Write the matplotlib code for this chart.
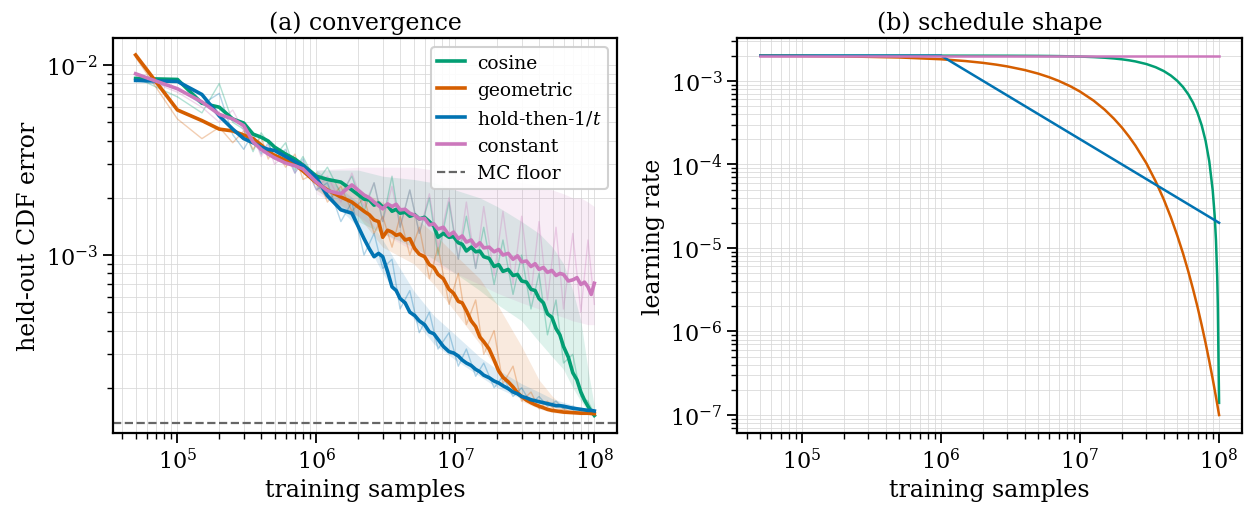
import numpy as np
import matplotlib
matplotlib.use("Agg")
import matplotlib.pyplot as plt

plt.rcParams['font.family'] = ['DejaVu Serif']
plt.rcParams['mathtext.fontset'] = 'dejavuserif'

# colours (seaborn colorblind)
c_cos = '#029e73'
c_geo = '#d55e00'
c_hold = '#0173b2'
c_const = '#cc78bc'

# ---- panel (a): convergence ----
samples = [5e4, 1e5, 1.5e5, 2e5, 2.5e5, 3e5, 3.5e5, 4e5, 4.5e5, 5e5, 6e5, 7e5, 8e5,
           1e6, 1.2e6, 1.5e6, 1.8e6,
           2.2e6, 2.4e6, 2.6e6, 2.8e6, 3e6, 3.25e6, 3.5e6, 3.75e6, 4e6, 4.35e6, 4.7e6,
           5.1e6, 5.5e6, 6e6, 6.5e6, 7e6, 7.5e6, 8.2e6, 9e6, 9.7e6, 1.05e7, 1.12e7, 1.2e7,
           1.3e7, 1.4e7, 1.5e7, 1.6e7, 1.75e7, 1.9e7, 2.05e7, 2.2e7, 2.4e7, 2.6e7, 2.8e7,
           3e7, 3.25e7, 3.5e7, 3.75e7, 4e7, 4.3e7, 4.6e7, 4.95e7, 5.3e7, 5.65e7, 6e7, 6.5e7,
           7e7, 7.5e7, 8e7, 8.5e7, 9e7, 9.5e7, 1e8]

err_cos = [8.5e-3, 8.4e-3, 6.3e-3, 6.0e-3, 5.2e-3, 4.95e-3, 4.33e-3, 4.17e-3, 3.98e-3, 3.7e-3,
           3.4e-3, 3.2e-3, 2.98e-3, 2.6e-3, 2.5e-3, 2.42e-3, 2.2e-3,
           1.97e-3, 1.95e-3, 1.83e-3, 1.88e-3, 1.79e-3, 1.82e-3, 1.7e-3, 1.74e-3, 1.66e-3,
           1.68e-3, 1.6e-3, 1.63e-3, 1.55e-3, 1.58e-3, 1.5e-3, 1.42e-3, 1.24e-3, 1.3e-3,
           1.24e-3, 1.25e-3, 1.16e-3, 1.14e-3, 1.05e-3, 1.1e-3, 1.04e-3, 1.05e-3, 9.8e-4,
           9.6e-4, 8.7e-4, 8.9e-4, 8.2e-4, 8.4e-4, 7.8e-4, 7.9e-4, 7.3e-4, 7.2e-4, 6.6e-4,
           6.5e-4, 5.9e-4, 5.6e-4, 4.9e-4, 4.7e-4, 4.1e-4, 3.8e-4, 3.3e-4, 2.9e-4, 2.4e-4,
           2.2e-4, 1.9e-4, 1.72e-4, 1.6e-4, 1.5e-4, 1.43e-4]
err_geo = [1.13e-2, 5.8e-3, 5.1e-3, 4.6e-3, 4.5e-3, 4.28e-3, 4.1e-3, 3.8e-3, 3.5e-3, 3.35e-3,
           3.16e-3, 3.0e-3, 2.77e-3, 2.4e-3, 2.2e-3, 2.02e-3, 1.9e-3,
           1.7e-3, 1.63e-3, 1.53e-3, 1.5e-3, 1.24e-3, 1.35e-3, 1.32e-3, 1.27e-3, 1.29e-3,
           1.2e-3, 1.22e-3, 1.08e-3, 1.01e-3, 9.8e-4, 8.9e-4, 8.6e-4, 7.9e-4, 7.5e-4, 6.6e-4,
           6.3e-4, 5.7e-4, 5.6e-4, 5.1e-4, 4.5e-4, 4.2e-4, 3.7e-4, 3.5e-4, 3.2e-4, 2.8e-4,
           2.45e-4, 2.27e-4, 2.15e-4, 2.02e-4, 1.88e-4, 1.8e-4, 1.72e-4, 1.67e-4, 1.63e-4,
           1.6e-4, 1.57e-4, 1.54e-4, 1.52e-4, 1.51e-4, 1.5e-4, 1.49e-4, 1.485e-4, 1.48e-4,
           1.475e-4, 1.47e-4, 1.47e-4, 1.47e-4, 1.465e-4, 1.46e-4]
err_hold = [8.3e-3, 8.2e-3, 7.0e-3, 5.4e-3, 4.6e-3, 4.1e-3, 3.9e-3, 3.7e-3, 3.6e-3, 3.55e-3,
            3.3e-3, 3.1e-3, 2.95e-3, 2.55e-3, 2.05e-3, 1.73e-3, 1.66e-3,
            1.22e-3, 1.08e-3, 9.8e-4, 1.02e-3, 9.8e-4, 8.2e-4, 6.8e-4, 6.5e-4, 5.9e-4,
            5.6e-4, 5.0e-4, 4.8e-4, 4.5e-4, 4.3e-4, 3.94e-4, 3.85e-4, 3.6e-4, 3.3e-4, 3.1e-4,
            3.05e-4, 2.94e-4, 2.8e-4, 2.7e-4, 2.62e-4, 2.5e-4, 2.43e-4, 2.33e-4, 2.26e-4,
            2.17e-4, 2.12e-4, 2.05e-4, 1.98e-4, 1.9e-4, 1.86e-4, 1.8e-4, 1.77e-4, 1.73e-4,
            1.71e-4, 1.69e-4, 1.67e-4, 1.65e-4, 1.63e-4, 1.61e-4, 1.61e-4, 1.6e-4, 1.58e-4,
            1.56e-4, 1.55e-4, 1.54e-4, 1.53e-4, 1.52e-4, 1.52e-4, 1.51e-4]
err_const = [9.0e-3, 7.5e-3, 6.4e-3, 5.5e-3, 5.2e-3, 4.8e-3, 3.94e-3, 3.6e-3, 3.4e-3, 3.25e-3,
             3.05e-3, 2.95e-3, 2.84e-3, 2.42e-3, 2.18e-3, 2.1e-3, 2.34e-3,
             2.07e-3, 2.0e-3, 1.9e-3, 1.82e-3, 1.75e-3, 1.86e-3, 1.8e-3, 1.85e-3, 1.73e-3,
             1.74e-3, 1.66e-3, 1.62e-3, 1.55e-3, 1.56e-3, 1.44e-3, 1.46e-3, 1.37e-3, 1.4e-3,
             1.27e-3, 1.32e-3, 1.22e-3, 1.26e-3, 1.17e-3, 1.2e-3, 1.11e-3, 1.16e-3, 1.09e-3,
             1.1e-3, 1.04e-3, 1.07e-3, 1.0e-3, 1.02e-3, 9.5e-4, 9.9e-4, 9.2e-4, 9.3e-4, 8.7e-4,
             9.0e-4, 8.4e-4, 8.6e-4, 8.1e-4, 8.3e-4, 7.8e-4, 8.0e-4, 7.9e-4, 7.3e-4, 7.4e-4,
             7.6e-4, 7.0e-4, 7.2e-4, 6.8e-4, 6.2e-4, 7.1e-4]

# single-seed raw traces (thin, faint)
raw_x = [5e4, 1e5, 1.5e5, 2e5, 2.5e5, 3e5, 3.5e5, 4e5, 4.5e5, 5e5, 6e5, 7e5, 8e5,
         1e6, 1.2e6, 1.5e6, 1.8e6, 2.2e6, 2.6e6, 3e6, 3.5e6, 4e6, 4.7e6, 5.5e6,
         6.5e6, 7.5e6, 9e6, 1.05e7, 1.2e7, 1.4e7, 1.6e7, 1.9e7, 2.2e7, 2.6e7,
         3e7, 3.5e7, 4e7, 4.6e7, 5.3e7, 6e7, 7e7, 8e7, 9e7, 1e8]
raw_cos = [8.6e-3, 6.8e-3, 5.6e-3, 8.0e-3, 5.0e-3, 4.6e-3, 3.5e-3, 4.4e-3, 3.9e-3, 3.3e-3,
           3.9e-3, 2.8e-3, 3.3e-3, 2.4e-3, 2.9e-3, 2.1e-3, 2.6e-3, 1.7e-3, 2.4e-3, 1.5e-3,
           2.6e-3, 1.4e-3, 2.2e-3, 1.3e-3, 2.0e-3, 1.0e-3, 1.9e-3, 9.5e-4, 1.6e-3, 8.5e-4,
           1.4e-3, 7.0e-4, 1.2e-3, 6.2e-4, 1.0e-3, 5.2e-4, 8.0e-4, 3.8e-4, 5.8e-4, 2.7e-4,
           3.0e-4, 1.8e-4, 1.7e-4, 1.45e-4]
raw_geo = [1.1e-2, 5.2e-3, 4.1e-3, 4.7e-3, 3.9e-3, 4.5e-3, 3.6e-3, 4.2e-3, 3.2e-3, 3.7e-3,
           2.9e-3, 3.4e-3, 2.5e-3, 2.7e-3, 1.9e-3, 2.3e-3, 1.7e-3, 2.0e-3, 1.3e-3, 1.6e-3,
           1.1e-3, 1.6e-3, 1.0e-3, 1.4e-3, 7.5e-4, 1.1e-3, 5.5e-4, 8.0e-4, 4.3e-4, 5.8e-4,
           3.0e-4, 4.0e-4, 2.1e-4, 2.6e-4, 1.7e-4, 1.9e-4, 1.55e-4, 1.7e-4, 1.5e-4, 1.55e-4,
           1.47e-4, 1.49e-4, 1.46e-4, 1.46e-4]
raw_hold = [8.3e-3, 7.6e-3, 6.2e-3, 7.1e-3, 4.3e-3, 3.6e-3, 4.4e-3, 3.4e-3, 3.9e-3, 3.2e-3,
            3.6e-3, 2.7e-3, 3.2e-3, 2.2e-3, 2.4e-3, 1.5e-3, 1.9e-3, 1.0e-3, 1.3e-3, 8.5e-4,
            9.5e-4, 5.2e-4, 6.5e-4, 3.9e-4, 5.0e-4, 3.2e-4, 3.9e-4, 2.6e-4, 3.2e-4, 2.3e-4,
            2.7e-4, 2.0e-4, 2.3e-4, 1.8e-4, 2.0e-4, 1.65e-4, 1.8e-4, 1.6e-4, 1.7e-4, 1.55e-4,
            1.6e-4, 1.52e-4, 1.55e-4, 1.5e-4]
raw_const = [8.8e-3, 7.2e-3, 6.0e-3, 5.0e-3, 5.8e-3, 4.5e-3, 4.3e-3, 3.3e-3, 3.8e-3, 3.0e-3,
             3.4e-3, 2.7e-3, 3.1e-3, 2.2e-3, 2.6e-3, 1.9e-3, 2.7e-3, 1.8e-3, 2.4e-3, 1.5e-3,
             2.3e-3, 1.4e-3, 2.2e-3, 1.3e-3, 2.1e-3, 1.1e-3, 2.0e-3, 9.5e-4, 1.9e-3, 8.5e-4,
             1.8e-3, 7.8e-4, 1.7e-3, 7.0e-4, 1.6e-3, 6.2e-4, 1.5e-3, 5.8e-4, 1.4e-3, 5.2e-4,
             1.3e-3, 5.0e-4, 1.2e-3, 5.5e-4]

# seed spread bands
band_x = [1e6, 2e6, 3e6, 5e6, 7e6, 1e7, 1.5e7, 2e7, 3e7, 4e7, 5e7, 6e7, 7e7, 8e7, 9e7, 1e8]
cos_hi = [2.8e-3, 2.8e-3, 2.6e-3, 2.5e-3, 2.4e-3, 2.2e-3, 2.0e-3, 1.8e-3, 1.5e-3, 1.3e-3,
          1.1e-3, 9.0e-4, 6.5e-4, 4.5e-4, 2.5e-4, 1.6e-4]
cos_lo = [2.2e-3, 1.5e-3, 1.3e-3, 1.1e-3, 9.5e-4, 8.0e-4, 6.5e-4, 5.5e-4, 4.5e-4, 3.5e-4,
          2.9e-4, 2.5e-4, 2.0e-4, 1.7e-4, 1.5e-4, 1.4e-4]
geo_hi = [2.6e-3, 2.2e-3, 1.9e-3, 1.6e-3, 1.3e-3, 1.0e-3, 7.5e-4, 5.5e-4, 3.3e-4, 2.2e-4,
          1.8e-4, 1.6e-4, 1.55e-4, 1.5e-4, 1.5e-4, 1.48e-4]
geo_lo = [2.2e-3, 1.6e-3, 1.1e-3, 9.0e-4, 7.0e-4, 5.0e-4, 3.4e-4, 2.5e-4, 1.7e-4, 1.55e-4,
          1.48e-4, 1.46e-4, 1.45e-4, 1.44e-4, 1.44e-4, 1.44e-4]
hold_hi = [2.8e-3, 1.9e-3, 1.2e-3, 6.5e-4, 4.8e-4, 3.8e-4, 2.9e-4, 2.5e-4, 2.1e-4, 1.9e-4,
           1.75e-4, 1.68e-4, 1.62e-4, 1.58e-4, 1.55e-4, 1.54e-4]
hold_lo = [2.3e-3, 1.4e-3, 8.0e-4, 4.6e-4, 3.4e-4, 2.8e-4, 2.3e-4, 2.0e-4, 1.75e-4, 1.65e-4,
           1.58e-4, 1.55e-4, 1.52e-4, 1.5e-4, 1.49e-4, 1.48e-4]
const_hi = [2.8e-3, 2.9e-3, 2.9e-3, 2.9e-3, 2.8e-3, 2.7e-3, 2.6e-3, 2.5e-3, 2.4e-3, 2.3e-3,
            2.2e-3, 2.1e-3, 2.0e-3, 2.0e-3, 1.9e-3, 1.8e-3]
const_lo = [2.1e-3, 1.6e-3, 1.3e-3, 1.05e-3, 9.0e-4, 8.0e-4, 7.0e-4, 6.3e-4, 5.6e-4, 5.2e-4,
            4.9e-4, 4.7e-4, 4.5e-4, 4.4e-4, 4.3e-4, 4.3e-4]

mc_floor = 1.31e-4

# ---- panel (b): learning-rate schedules ----
sched_x = [5e4, 1e5, 2e5, 5e5, 1e6, 1.5e6, 2e6, 2.5e6, 3e6, 4e6, 5e6, 6e6, 7e6, 8.5e6, 1e7,
           1.25e7, 1.5e7, 1.75e7, 2e7, 2.25e7, 2.5e7, 3e7, 3.5e7, 4e7, 4.5e7, 5e7, 5.5e7,
           6e7, 6.5e7, 7e7, 7.5e7, 8e7, 8.5e7, 9e7, 9.3e7, 9.5e7, 9.7e7, 9.8e7, 9.9e7,
           9.95e7, 1e8]
lr_cos = [2.0e-3, 2.0e-3, 2.0e-3, 2.0e-3, 1.9995e-3, 1.9989e-3, 1.998e-3, 1.9969e-3,
          1.9956e-3, 1.9921e-3, 1.9877e-3, 1.9823e-3, 1.976e-3, 1.9646e-3, 1.951e-3,
          1.9239e-3, 1.891e-3, 1.8526e-3, 1.809e-3, 1.7604e-3, 1.707e-3, 1.588e-3, 1.454e-3,
          1.309e-3, 1.156e-3, 1.0e-3, 8.44e-4, 6.91e-4, 5.46e-4, 4.12e-4, 2.93e-4, 1.91e-4,
          1.09e-4, 4.89e-5, 2.41e-5, 1.23e-5, 4.43e-6, 1.97e-6, 4.93e-7, 2.6e-7, 1.4e-7]
lr_geo = [1.990e-3, 1.980e-3, 1.961e-3, 1.903e-3, 1.812e-3, 1.724e-3, 1.641e-3, 1.561e-3,
          1.486e-3, 1.346e-3, 1.219e-3, 1.104e-3, 1.0e-3, 8.62e-4, 7.43e-4, 5.80e-4, 4.53e-4,
          3.53e-4, 2.76e-4, 2.15e-4, 1.68e-4, 1.03e-4, 6.25e-5, 3.81e-5, 2.32e-5, 1.41e-5,
          8.62e-6, 5.26e-6, 3.20e-6, 1.96e-6, 1.19e-6, 7.27e-7, 4.42e-7, 2.70e-7, 2.0e-7,
          1.64e-7, 1.35e-7, 1.22e-7, 1.10e-7, 1.05e-7, 1.0e-7]
hold_x = [5e4, 1e6, 1e8]
lr_hold = [2e-3, 2e-3, 2e-5]
const_x = [5e4, 1e8]
lr_const = [2e-3, 2e-3]

fig = plt.figure(figsize=(12.48, 5.1), dpi=100)
ax1 = fig.add_axes([0.0903, 0.149, 0.4043, 0.7751])
ax2 = fig.add_axes([0.5908, 0.149, 0.4044, 0.7751])

series = [
    ('cosine', c_cos, err_cos, raw_cos, cos_lo, cos_hi),
    ('geometric', c_geo, err_geo, raw_geo, geo_lo, geo_hi),
    ('hold-then-$1/t$', c_hold, err_hold, raw_hold, hold_lo, hold_hi),
    ('constant', c_const, err_const, raw_const, const_lo, const_hi),
]
for name, col, mean, raw, lo, hi in series:
    ax1.fill_between(band_x, lo, hi, color=col, alpha=0.13, lw=0)
    ax1.plot(raw_x, raw, color=col, lw=1.0, alpha=0.3)
for name, col, mean, raw, lo, hi in series:
    ax1.plot(samples, mean, color=col, lw=2.6, label=name)
ax1.axhline(mc_floor, color='#666666', ls='--', lw=1.6, label='MC floor')

ax2.plot(sched_x, lr_cos, color=c_cos, lw=1.8)
ax2.plot(sched_x, lr_geo, color=c_geo, lw=1.8)
ax2.plot(hold_x, lr_hold, color=c_hold, lw=1.8)
ax2.plot(const_x, lr_const, color=c_const, lw=1.8)

for ax in (ax1, ax2):
    ax.set_xscale('log')
    ax.set_yscale('log')
    ax.set_xlim(10 ** 4.534, 10 ** 8.165)
    ax.grid(True, which='both', color='#d8d8d8', lw=0.7, alpha=0.8)
    ax.set_axisbelow(True)
    ax.tick_params(which='major', length=7, width=1.3, labelsize=16)
    ax.tick_params(which='minor', length=4, width=1.0)
    for s in ax.spines.values():
        s.set_linewidth(1.6)
    ax.set_xlabel('training samples', fontsize=17)

ax1.set_ylim(10 ** -3.937, 10 ** -1.856)
ax2.set_ylim(10 ** -7.215, 10 ** -2.484)
ax1.set_ylabel('held-out CDF error', fontsize=17)
ax2.set_ylabel('learning rate', fontsize=17)
ax1.set_title('(a) convergence', fontsize=17)
ax2.set_title('(b) schedule shape', fontsize=17)

leg = ax1.legend(loc='upper right', fontsize=13.5, framealpha=0.9, edgecolor='#cccccc',
                 handlelength=1.5, handletextpad=0.6, borderpad=0.35)
leg.get_frame().set_linewidth(1.5)

fig.savefig('out.png', dpi=100)
